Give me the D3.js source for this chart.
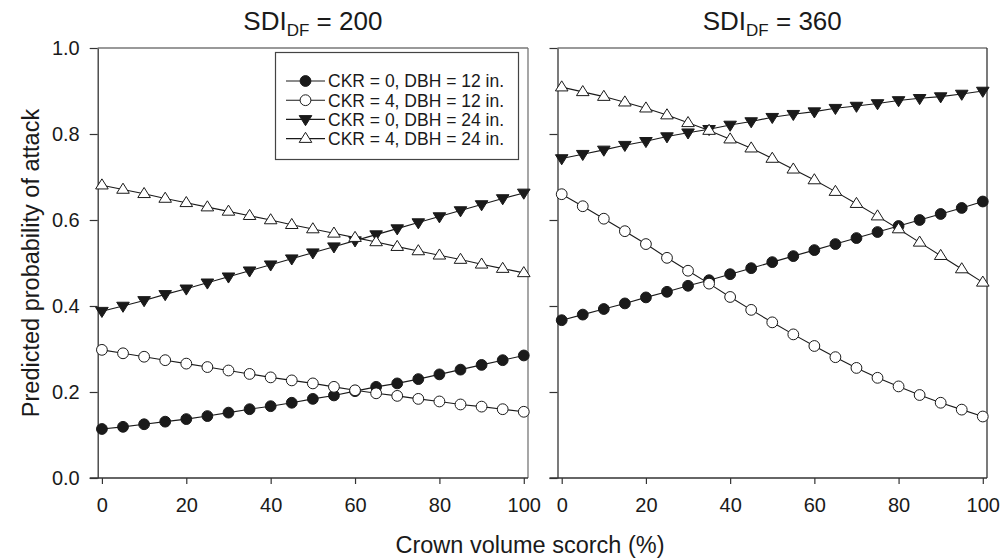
<!DOCTYPE html>
<html>
<head>
<meta charset="utf-8">
<script src="https://cdn.jsdelivr.net/npm/d3@7"></script>
<style>
  body { margin: 0; background: #fff; }
  text { font-family: Arial, "Liberation Sans", sans-serif; fill: #1a1a1a; }
</style>
</head>
<body>
<svg id="chart" width="1006" height="560"></svg>
<script>
// crown volume scorch (%)
var scorch = [0, 5, 10, 15, 20, 25, 30, 35, 40, 45, 50, 55, 60, 65, 70, 75, 80, 85, 90, 95, 100];

// SDI_DF = 200
var sdi200_ckr0_dbh12 = [0.114, 0.119, 0.125, 0.131, 0.137, 0.144, 0.152, 0.160, 0.167, 0.175, 0.184, 0.192, 0.202, 0.212, 0.220, 0.230, 0.241, 0.252, 0.263, 0.274, 0.285];
var sdi200_ckr4_dbh12 = [0.298, 0.290, 0.282, 0.274, 0.266, 0.258, 0.250, 0.242, 0.234, 0.227, 0.220, 0.212, 0.204, 0.197, 0.191, 0.184, 0.178, 0.171, 0.166, 0.160, 0.154];
var sdi200_ckr0_dbh24 = [0.388, 0.400, 0.413, 0.427, 0.440, 0.454, 0.468, 0.482, 0.496, 0.510, 0.524, 0.538, 0.552, 0.566, 0.580, 0.594, 0.608, 0.622, 0.636, 0.650, 0.663];
var sdi200_ckr4_dbh24 = [0.681, 0.671, 0.661, 0.650, 0.640, 0.630, 0.620, 0.610, 0.600, 0.589, 0.579, 0.569, 0.559, 0.549, 0.538, 0.528, 0.518, 0.508, 0.497, 0.487, 0.477];

// SDI_DF = 360
var sdi360_ckr0_dbh12 = [0.367, 0.380, 0.393, 0.406, 0.420, 0.433, 0.447, 0.460, 0.474, 0.488, 0.502, 0.516, 0.530, 0.544, 0.558, 0.572, 0.586, 0.600, 0.614, 0.628, 0.643];
var sdi360_ckr4_dbh12 = [0.660, 0.632, 0.603, 0.574, 0.544, 0.512, 0.482, 0.452, 0.421, 0.391, 0.362, 0.334, 0.307, 0.281, 0.256, 0.233, 0.213, 0.193, 0.175, 0.159, 0.143];
var sdi360_ckr0_dbh24 = [0.743, 0.753, 0.763, 0.774, 0.783, 0.794, 0.803, 0.811, 0.821, 0.829, 0.839, 0.846, 0.852, 0.860, 0.865, 0.871, 0.878, 0.883, 0.887, 0.893, 0.900];
var sdi360_ckr4_dbh24 = [0.909, 0.898, 0.887, 0.874, 0.860, 0.844, 0.826, 0.808, 0.788, 0.767, 0.743, 0.718, 0.693, 0.666, 0.638, 0.609, 0.579, 0.548, 0.517, 0.486, 0.455];

var seriesNames = ["CKR = 0, DBH = 12 in.", "CKR = 4, DBH = 12 in.", "CKR = 0, DBH = 24 in.", "CKR = 4, DBH = 24 in."];
var markers = ["circle", "opencircle", "down", "up"];
var panelTitles = ["200", "360"];
var xTicks = [0, 20, 40, 60, 80, 100];
var yTicks = [0.0, 0.2, 0.4, 0.6, 0.8, 1.0];

var panels = [
  [sdi200_ckr0_dbh12, sdi200_ckr4_dbh12, sdi200_ckr0_dbh24, sdi200_ckr4_dbh24],
  [sdi360_ckr0_dbh12, sdi360_ckr4_dbh12, sdi360_ckr0_dbh24, sdi360_ckr4_dbh24]
];

function draw() {
  var svg = d3.select("#chart");
  var plotTop = 48, plotBottom = 478;
  var ranges = [[97.7, 528], [557.5, 987]];

  var y = d3.scaleLinear().domain([0, 1]).range([plotBottom, plotTop]);

  // marker drawing
  function drawMarker(g, type, cx, cy) {
    if (type === "circle" || type === "opencircle") {
      g.append("circle")
        .attr("cx", cx).attr("cy", cy).attr("r", 5.4)
        .attr("fill", type === "circle" ? "#1a1a1a" : "#fff")
        .attr("stroke", "#1a1a1a").attr("stroke-width", 1);
    } else {
      var s = 6.3;
      var pts = type === "down"
        ? [[cx - s, cy - s * 0.6], [cx + s, cy - s * 0.6], [cx, cy + s * 1.0]]
        : [[cx - s, cy + s * 0.6], [cx + s, cy + s * 0.6], [cx, cy - s * 1.0]];
      g.append("polygon")
        .attr("points", pts.map(function (p) { return p.join(","); }).join(" "))
        .attr("fill", type === "down" ? "#1a1a1a" : "#fff")
        .attr("stroke", "#1a1a1a").attr("stroke-width", 1);
    }
  }

  panels.forEach(function (series, pi) {
    var x = d3.scaleLinear().domain([-1, 101]).range(ranges[pi]);
    var g = svg.append("g");

    // frame top/right
    g.append("line")
      .attr("x1", ranges[pi][0]).attr("x2", ranges[pi][1])
      .attr("y1", plotTop).attr("y2", plotTop)
      .attr("stroke", "#777").attr("stroke-width", 1.3);
    g.append("line")
      .attr("x1", ranges[pi][1]).attr("x2", ranges[pi][1])
      .attr("y1", plotTop).attr("y2", plotBottom)
      .attr("stroke", pi === 0 ? "#777" : "#333").attr("stroke-width", 1.3);

    // axes
    var yAxis = d3.axisLeft(y).tickValues(yTicks).tickSize(8).tickSizeOuter(0).tickPadding(10)
      .tickFormat(pi === 0 ? d3.format(".1f") : function () { return ""; });
    var ya = g.append("g").attr("transform", "translate(" + ranges[pi][0] + ",0)").call(yAxis);

    var xAxis = d3.axisBottom(x).tickValues(xTicks).tickSize(6).tickSizeOuter(0).tickPadding(14);
    var xa = g.append("g").attr("transform", "translate(0," + plotBottom + ")").call(xAxis);

    [ya, xa].forEach(function (a) {
      a.select(".domain").attr("stroke", "#333").attr("stroke-width", 1.3);
      a.selectAll(".tick line").attr("stroke", "#333").attr("stroke-width", 1.2);
      a.selectAll(".tick text").attr("font-size", 20).attr("fill", "#1a1a1a")
        .attr("font-family", "Arial, 'Liberation Sans', sans-serif");
    });
    // extend bottom domain to the 0.0 tick
    xa.select(".domain").attr("d", "M" + (ranges[pi][0] - 8) + ",0H" + ranges[pi][1]);

    // lines and markers
    var line = d3.line()
      .x(function (d, i) { return x(scorch[i]); })
      .y(function (d) { return y(d); });

    series.forEach(function (vals) {
      g.append("path")
        .attr("d", line(vals))
        .attr("fill", "none")
        .attr("stroke", "#1a1a1a")
        .attr("stroke-width", 1.1);
    });
    series.forEach(function (vals, si) {
      var mg = g.append("g");
      vals.forEach(function (v, i) {
        drawMarker(mg, markers[si], x(scorch[i]), y(v));
      });
    });

    // title
    var cx = (ranges[pi][0] + ranges[pi][1]) / 2;
    var t = svg.append("text")
      .attr("x", cx).attr("y", 30)
      .attr("text-anchor", "middle")
      .attr("font-size", 26);
    t.append("tspan").text("SDI");
    t.append("tspan").attr("font-size", 17).attr("dy", 6).text("DF");
    t.append("tspan").attr("dy", -6).text(" = " + panelTitles[pi]);
  });

  // legend
  var lg = svg.append("g");
  lg.append("rect")
    .attr("x", 275.5).attr("y", 52.5).attr("width", 243).attr("height", 107)
    .attr("fill", "#fff").attr("stroke", "#444").attr("stroke-width", 1.2);
  seriesNames.forEach(function (name, i) {
    var cy = 81 + i * 19.2;
    lg.append("line")
      .attr("x1", 286).attr("x2", 325).attr("y1", cy).attr("y2", cy)
      .attr("stroke", "#1a1a1a").attr("stroke-width", 1.1);
    drawMarker(lg, markers[i], 305.5, cy);
    lg.append("text")
      .attr("x", 328).attr("y", cy + 6.3)
      .attr("font-size", 17.5)
      .text(name);
  });

  // axis titles
  svg.append("text")
    .attr("transform", "translate(39," + ((plotTop + plotBottom) / 2) + ") rotate(-90)")
    .attr("text-anchor", "middle")
    .attr("font-size", 23.5)
    .text("Predicted probability of attack");

  svg.append("text")
    .attr("x", 530).attr("y", 553)
    .attr("text-anchor", "middle")
    .attr("font-size", 23.5)
    .text("Crown volume scorch (%)");
}
draw();
</script>
</body>
</html>
